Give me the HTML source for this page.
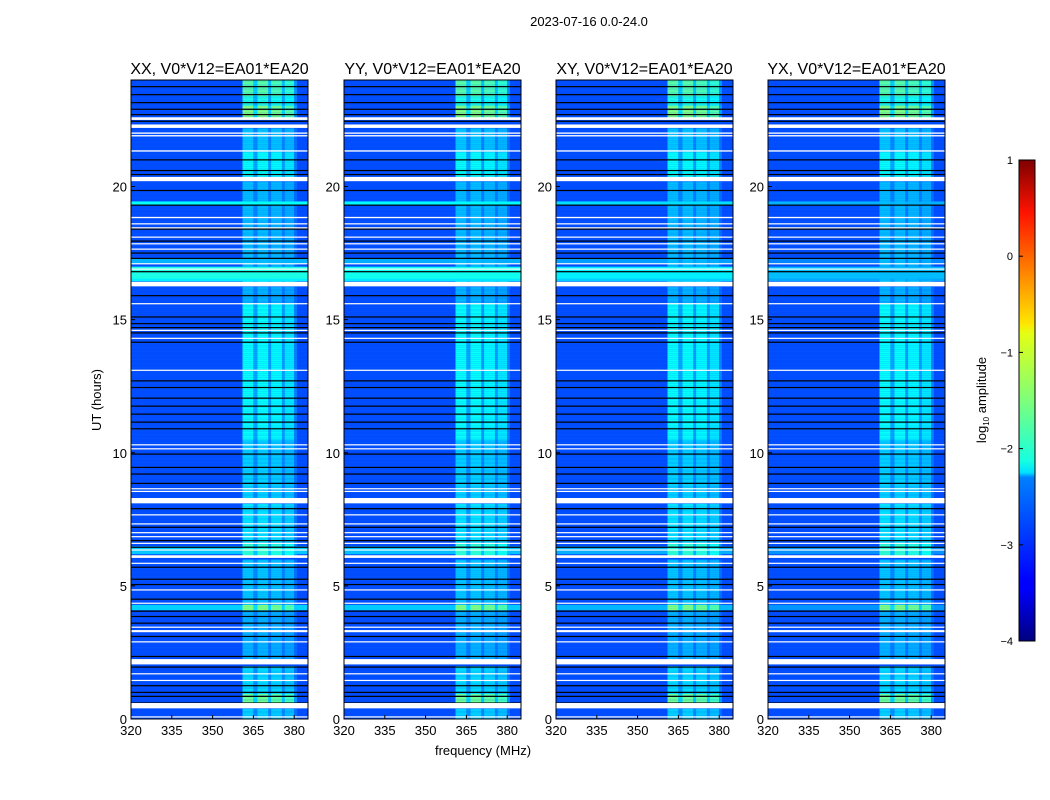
<!DOCTYPE html>
<html><head><meta charset="utf-8"><style>
body{margin:0;background:#fff;}
svg{display:block;font-family:"Liberation Sans","DejaVu Sans",sans-serif;}
</style></head><body>
<svg id="fig" width="1050" height="800" viewBox="0 0 1050 800">
<defs>
<linearGradient id="jet" x1="0" y1="1" x2="0" y2="0">
<stop offset="0" stop-color="#00007f"/><stop offset="0.11" stop-color="#0000ff"/>
<stop offset="0.125" stop-color="#0000ff"/><stop offset="0.34" stop-color="#0080ff"/>
<stop offset="0.35" stop-color="#00e0ff"/><stop offset="0.375" stop-color="#17ffe0"/>
<stop offset="0.5" stop-color="#7dff7a"/><stop offset="0.64" stop-color="#e4ff13"/>
<stop offset="0.66" stop-color="#ffe500"/><stop offset="0.89" stop-color="#ff1300"/>
<stop offset="1" stop-color="#7f0000"/>
</linearGradient>
</defs>
<text x="589" y="26" font-size="13" text-anchor="middle">2023-07-16 0.0-24.0</text>
<text x="101" y="400" font-size="13" text-anchor="middle" transform="rotate(-90 101 400)">UT (hours)</text>
<text x="483" y="755" font-size="13" text-anchor="middle">frequency (MHz)</text>
<g id="panels"></g>
<g>
<rect x="1019" y="160" width="16" height="481" fill="url(#jet)" stroke="#000" stroke-width="1"/>
<g id="cbticks"></g>
<text x="986" y="400" font-size="13" text-anchor="middle" transform="rotate(-90 986 400)">log<tspan font-size="8" dy="3">10</tspan><tspan dy="-3"> amplitude</tspan></text>
</g>
</svg>
<script>
// ---- data ----
const panelTitles = ["XX, V0*V12=EA01*EA20","YY, V0*V12=EA01*EA20","XY, V0*V12=EA01*EA20","YX, V0*V12=EA01*EA20"];
const xTicks = [320,335,350,365,380];
const yTicks = [0,5,10,15,20];
const cbTicks = [1,0,-1,-2,-3,-4];
const baseLevel = -3.0;
// flagged (white) time ranges [start,end] hours
const flaggedRows = [[22.5,22.6],[22.2,22.33],[21.98,22.03],[21.88,21.93],[21.31,21.36],[20.2,20.36],[18.81,18.86],[18.58,18.62],[18.43,18.47],[18.08,18.12],[17.83,17.87],[17.63,17.67],[17.08,17.12],[16.88,16.92],[16.25,16.42],[15.58,15.62],[14.58,14.62],[14.28,14.32],[13.08,13.12],[10.28,10.32],[10.13,10.17],[8.63,8.67],[8.53,8.57],[8.1,8.3],[7.65,7.69],[7.31,7.35],[6.98,7.02],[6.83,6.87],[6.58,6.62],[6.33,6.37],[6.05,6.15],[5.83,5.87],[4.83,4.87],[4.33,4.37],[3.43,3.47],[3.26,3.34],[2.88,2.92],[2.05,2.25],[1.68,1.72],[1.43,1.47],[0.4,0.6],[0.06,0.1]];
// zero-data (black) time lines
const blackRows = [23.75,23.45,23.15,22.9,22.7,22.45,21.0,20.6,20.45,19.85,19.3,18.4,17.95,17.5,17.3,16.8,15.9,15.1,14.85,14.7,14.5,14.15,12.7,12.45,12.05,11.75,11.45,11.15,10.9,9.95,9.45,9.2,8.85,7.9,7.2,6.7,6.45,5.7,5.25,5.05,4.5,4.05,3.85,3.6,3.1,2.35,1.95,1.25,1.0,0.85,0.6];
// broadband bright time ranges [start,end,level]
const brightRows = [[19.3,19.45,-2.1],[16.55,17.0,-2.0],[16.45,16.55,-2.2],[6.2,6.5,-2.4],[4.1,4.3,-2.35],[17.1,17.3,-2.5]];
// per-panel scaling of broadband brightness
const panelBright = [1.0,0.95,0.8,0.55];
// RFI band level vs time [start,end,level]
const bandLevels = [[0,0.4,-2.35],[0.6,0.95,-1.6],[0.95,2.0,-2.3],[2.25,4.1,-2.5],[4.1,4.3,-1.5],[4.3,6.0,-2.4],[6.15,6.6,-1.9],[6.6,8.1,-2.25],[8.3,10.5,-2.35],[10.5,15.6,-2.1],[15.6,16.25,-2.5],[16.42,20.2,-2.45],[20.36,21.3,-2.1],[21.3,22.2,-2.4],[22.6,23.05,-1.5],[23.05,23.4,-2.0],[23.4,24,-1.7]];
// frequency sub-band weights [startMHz,endMHz,weight]
const chanWeights = [[361,365,1.0],[365,366.5,0.5],[366.5,370.5,1.0],[370.5,371.5,0.45],[371.5,375.5,0.95],[375.5,376.5,0.45],[376.5,380,0.85],[380,381,0.3]];

// ---- axes ----
const PX=[131,344,556,768], PW=177, PY=80, PH=639;
const F0=320, FPX=2.72;
const xs=(f,i)=>PX[i]+(f-F0)*FPX;
const ys=h=>PY+PH-(h/24)*PH;
const FMAX=F0+PW/FPX;

function jet(v){let t=(v+4)/5;t=Math.max(0,Math.min(1,t));
 const c=x=>Math.round(255*Math.max(0,Math.min(1,x)));
 return `rgb(${c(1.5-Math.abs(4*t-3))},${c(1.5-Math.abs(4*t-2))},${c(1.5-Math.abs(4*t-1))})`;}

const NS="http://www.w3.org/2000/svg";
function mk(tag,attrs,parent){const e=document.createElementNS(NS,tag);for(const k in attrs)e.setAttribute(k,attrs[k]);parent.appendChild(e);return e;}
const panels=document.getElementById('panels');

function rowBase(h,p){let v=baseLevel;for(const b of brightRows){if(h>=b[0]&&h<b[1])v=baseLevel+(b[2]-baseLevel)*panelBright[p];}return v;}
function bandAt(h){for(const b of bandLevels){if(h>=b[0]&&h<b[1])return b[2];}return baseLevel;}

const DT=0.05;
for(let p=0;p<4;p++){
 const g=mk('g',{},panels);
 
 
 const cells=mk('g',{},g);
 
 
 for(let h=0;h<24-1e-9;h+=DT){
  const y0=ys(h+DT), y1=ys(h);
  const base=rowBase(h+DT/2,p);
  const r=mk('rect',{x:PX[p],y:y0,width:PW,height:y1-y0+0.3,fill:jet(base)},cells);
  
  
  const bl=bandAt(h+DT/2);
  for(const c of chanWeights){
   const v=Math.max(base,baseLevel+(bl-baseLevel)*c[2]);
   const x0=xs(c[0],p), x1=xs(Math.min(c[1],FMAX),p);
   const e=mk('rect',{x:x0,y:y0,width:x1-x0,height:y1-y0+0.3,fill:jet(v)},cells);
   
   
  }
 }
 for(const b of blackRows){
  const e=mk('rect',{x:PX[p],y:ys(b)-0.6,width:PW,height:1.2,fill:'#000'},g);
  
  
 }
 for(const f of flaggedRows){
  const y0=ys(f[1]), y1=ys(f[0]);
  const e=mk('rect',{x:PX[p],y:y0,width:PW,height:Math.max(1.2,y1-y0),fill:'#fff'},g);
  
  
 }
 const fr=mk('rect',{x:PX[p],y:PY,width:PW,height:PH,fill:'none',stroke:'#000','stroke-width':1},g);
 
 
 const t=mk('text',{x:PX[p]+PW/2,y:74,'font-size':16,'text-anchor':'middle'},g);
 t.textContent=panelTitles[p];
 
 
 for(const f of xTicks){
  const x=xs(f,p);
  const tk=mk('line',{x1:x,x2:x,y1:PY+PH,y2:PY+PH-4,stroke:'#000'},g);
  
  
  const l=mk('text',{x:x,y:PY+PH+16,'font-size':13,'text-anchor':'middle'},g);
  l.textContent=f;
  
  
 }
 for(const h of yTicks){
  const y=ys(h);
  const tk=mk('line',{x1:PX[p],x2:PX[p]+4,y1:y,y2:y,stroke:'#000'},g);
  
  
  const l=mk('text',{x:PX[p]-4,y:y+5,'font-size':13,'text-anchor':'end'},g);
  l.textContent=h;
  
  
 }
}
const cbg=document.getElementById('cbticks');
for(const v of cbTicks){
 const y=160+(1-v)/5*481;
 const tk=mk('line',{x1:1019,x2:1023,y1:y,y2:y,stroke:'#000'},cbg);
 
 
 const l=mk('text',{x:1013,y:y+4,'font-size':11,'text-anchor':'end'},cbg);
 l.textContent=v<0?'\u2212'+(-v):String(v);
 
 
}
</script>
</body></html>
